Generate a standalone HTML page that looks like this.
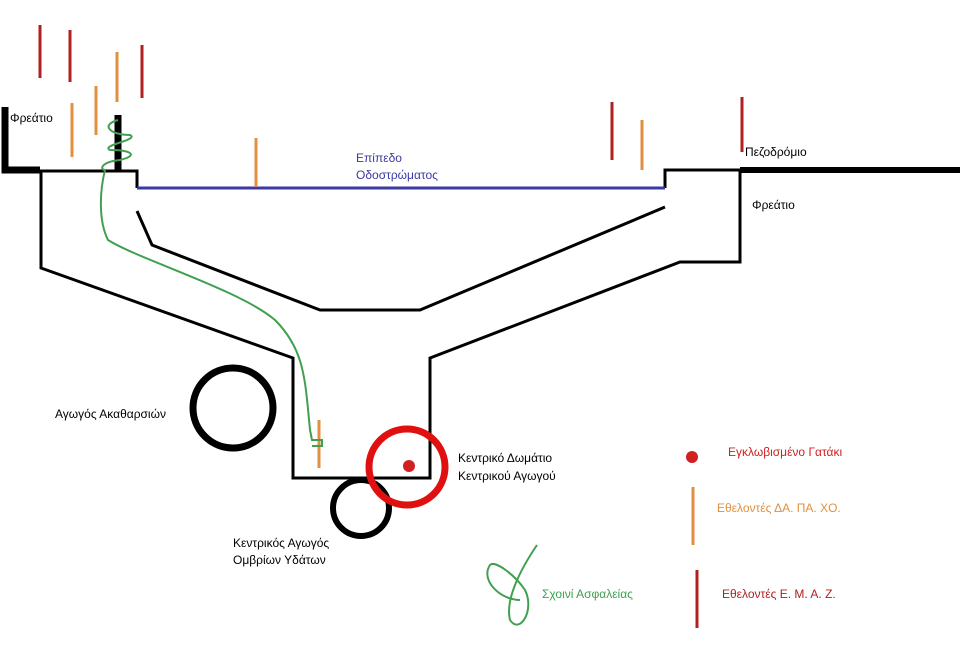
<!DOCTYPE html>
<html><head><meta charset="utf-8"><style>
body{margin:0;background:#fff}
svg text{font-family:"Liberation Sans","DejaVu Sans",sans-serif;font-size:12px}
</style></head><body>
<svg width="960" height="651" viewBox="0 0 960 651" xmlns="http://www.w3.org/2000/svg">
<g fill="none" stroke="#000" stroke-linejoin="miter">
<path d="M5,107 V170 H40" stroke-width="7"/>
<path d="M118,115 V170" stroke-width="7"/>
<path d="M740,170 H960" stroke-width="6"/>
<path d="M40,171 H137 V188" stroke-width="3"/>
<path d="M41,171 V268 L293,358 V478 H430 V358 L680,262 H740 V170" stroke-width="3"/>
<path d="M137,211 L152,245 L320,310 H420 L665,207" stroke-width="3"/>
<path d="M665,188 V170 H740" stroke-width="3"/>
<circle cx="233" cy="408" r="40" stroke-width="7"/>
<circle cx="361" cy="508" r="28" stroke-width="6"/>
</g>
<line x1="137" y1="188" x2="665" y2="188" stroke="#3a3aa0" stroke-width="3"/>
<circle cx="407" cy="467" r="38" fill="none" stroke="#e01010" stroke-width="7"/>
<circle cx="409" cy="466" r="6" fill="#d02020"/>
<circle cx="692" cy="457" r="6" fill="#d02020"/>
<g stroke="#b02020" stroke-width="3">
<line x1="40" y1="25" x2="40" y2="78"/><line x1="70" y1="30" x2="70" y2="82"/>
<line x1="142" y1="45" x2="142" y2="98"/><line x1="612" y1="102" x2="612" y2="160"/>
<line x1="742" y1="97" x2="742" y2="152"/><line x1="697" y1="570" x2="697" y2="628"/>
</g>
<g stroke="#e09040" stroke-width="3">
<line x1="72" y1="103" x2="72" y2="157"/><line x1="96" y1="86" x2="96" y2="135"/>
<line x1="117" y1="52" x2="117" y2="102"/><line x1="256" y1="138" x2="256" y2="187"/>
<line x1="642" y1="120" x2="642" y2="170"/><line x1="319" y1="420" x2="319" y2="468"/>
<line x1="693" y1="487" x2="693" y2="545"/>
</g>
<g fill="none" stroke="#40a050" stroke-width="2">
<path d="M118,120 C100,125 110,135 130,135 C140,140 100,145 110,150 C130,150 140,155 120,160 C100,162 100,170 105,170 C100,190 98,220 108,240 C140,260 240,290 275,320 C305,350 305,380 310,430 L312,440 L322,440 L322,446 L312,446"/>
<path d="M537,545 C520,570 505,600 510,620 C520,635 535,610 525,590 C515,575 495,560 490,565 C480,580 500,600 520,600"/>
</g>
<text x="10" y="122">Φρεάτιο</text>
<text x="356" y="162" fill="#3a3aa0">Επίπεδο</text>
<text x="356" y="179" fill="#3a3aa0">Οδοστρώματος</text>
<text x="745" y="156">Πεζοδρόμιο</text>
<text x="752" y="209">Φρεάτιο</text>
<text x="55" y="418">Αγωγός Ακαθαρσιών</text>
<text x="458" y="462">Κεντρικό Δωμάτιο</text>
<text x="458" y="480">Κεντρικού Αγωγού</text>
<text x="233" y="547">Κεντρικός Αγωγός</text>
<text x="233" y="564">Ομβρίων Υδάτων</text>
<text x="728" y="456" fill="#d02020">Εγκλωβισμένο Γατάκι</text>
<text x="717" y="512" fill="#e09040">Εθελοντές ΔΑ. ΠΑ. ΧΟ.</text>
<text x="722" y="598" fill="#b02020">Εθελοντές Ε. Μ. Α. Ζ.</text>
<text x="542" y="598" fill="#40a050">Σχοινί Ασφαλείας</text>
</svg>
</body></html>
